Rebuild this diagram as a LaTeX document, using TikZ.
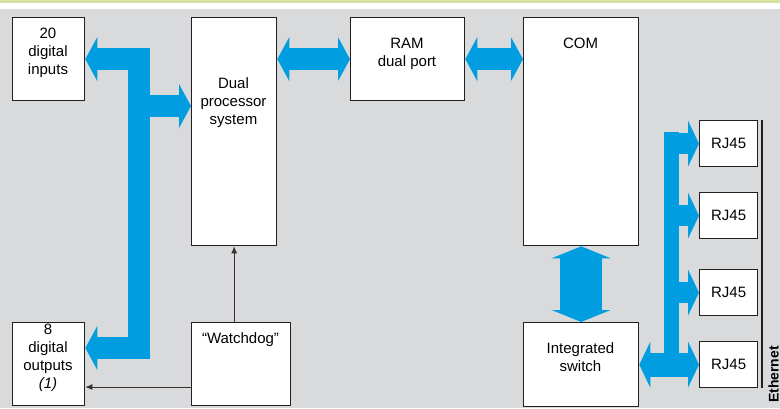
\documentclass[tikz,border=0pt]{standalone}
\usepackage{fontspec}
\setmainfont{Liberation Sans}
\usetikzlibrary{arrows.meta,positioning,calc}
\definecolor{busblue}{RGB}{0,158,224}
\definecolor{panelgrey}{RGB}{217,218,220}
\definecolor{bandgreen}{RGB}{214,226,160}
\definecolor{edgeblack}{RGB}{35,31,32}
\tikzset{
  bushead/.tip={Triangle[width=44pt,length=12pt,line width=0pt]},
  fathead/.tip={Triangle[width=59pt,length=12pt,line width=0pt]},
  rjhead/.tip={Triangle[width=46pt,length=11pt,line width=0pt]}
}

\begin{document}
\begin{tikzpicture}[x=1pt,y=-1pt,
    box/.style={draw=edgeblack, line width=1.3pt, fill=white, inner sep=0pt, anchor=north west, font=\fontsize{15}{18}\selectfont},
    txt/.style={inner sep=0pt, align=center, anchor=north, font=\fontsize{15}{18}\selectfont},
    bus/.style={draw=busblue, line width=22pt, line join=miter},
    wire/.style={draw=black!80, line width=0.9pt, -{Latex[length=7pt,width=6pt]}}]
			% background and top band
			\useasboundingbox (0,0) rectangle (780,408);
			\fill[panelgrey] (0,9) rectangle (780,408);
			\fill[bandgreen] (0,0) rectangle (780,2.5);
			% blocks
			\node[box, minimum width=72, minimum height=83] (inp) at (12,17) {};
			\node[box, minimum width=72, minimum height=83] (outp) at (12,322) {};
			\node[box, minimum width=85, minimum height=228] (proc) at (191,17) {};
			\node[box, minimum width=99, minimum height=83] (wd) at (191,322) {};
			\node[box, minimum width=114, minimum height=83] (ram) at (350,17) {};
			\node[box, minimum width=115, minimum height=228] (com) at (523,17) {};
			\node[box, minimum width=115, minimum height=84] (sw) at (523,322) {};
			\node[box, minimum width=58, minimum height=46] (rj1) at (699,120) {RJ45};
			\node[box, minimum width=58, minimum height=46] (rj2) at (699,192) {RJ45};
			\node[box, minimum width=58, minimum height=46] (rj3) at (699,269) {RJ45};
			\node[box, minimum width=58, minimum height=46] (rj4) at (699,341) {RJ45};
			% texts
			\node[txt] (inpT) at (48,27.6) {20\\digital\\inputs};
			\node[txt] (outpT) at (48,324) {8\\digital\\outputs\\\textit{(1)}};
			\node[txt] (procT) at (233.5,77) {Dual\\processor\\system};
			\node[txt] (wdT) at (240.5,332) {“Watchdog”};
			\node[txt] (ramT) at (407,38.3) {RAM\\dual port};
			\node[txt] (comT) at (580.5,38.3) {COM};
			\node[txt] (swT) at (580.5,342) {Integrated\\switch};
			\node[inner sep=0pt, rotate=90, anchor=base east, font=\fontsize{14}{16}\selectfont\bfseries] (ethT) at (778.5,346) {Ethernet};
			% left bus
			\coordinate (lbusMid) at (139,106);
			\coordinate (lbusBot) at (139,348);
			\draw[bus, bushead-bushead] (inp.east) -| (lbusBot) -- (lbusBot -| outp.east);
			\draw[bus, -bushead] (lbusMid) -- (lbusMid -| proc.west);
			% top links
			\draw[bus, bushead-bushead] (ram.west -| proc.east) -- (ram.west);
			\draw[bus, bushead-bushead] (ram.east) -- (ram.east -| com.west);
			\draw[bus, line width=42pt, fathead-fathead] (com.south) -- (sw.north);
			% ethernet ports
			\coordinate (rbusL) at (664,0);
			\coordinate (rbusX) at (671.5,0);
			\draw[busblue, line width=15pt] (rbusX |- sw.east) -- (rbusX |- 0,132);
			\draw[bus, line width=24pt, rjhead-rjhead] (sw.east) -- (rj4.west);
			\foreach \r in {rj1,rj2,rj3}
				\draw[bus, line width=21pt, -rjhead] (rbusL |- \r.west) -- (\r.west);
			\coordinate (ethX) at (762,0);
			\draw[edgeblack, line width=1.5pt] (ethX |- rj1.north) -- (ethX |- rj4.south);
			% watchdog wires
			\coordinate (wdOut) at (191,387);
			\draw[wire] (wd.north -| proc.south) -- (proc.south);
			\draw[wire] (wdOut) -- (wdOut -| outp.east);
		\end{tikzpicture}
\end{document}
